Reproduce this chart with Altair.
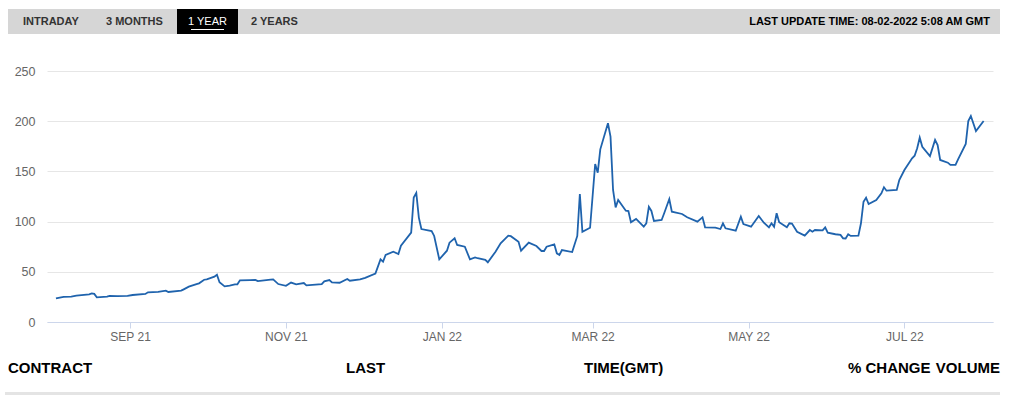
import altair as alt
import pandas as pd

dates = [
    "2021-08-03","2021-08-05","2021-08-06","2021-08-09","2021-08-11","2021-08-16","2021-08-17","2021-08-18","2021-08-19","2021-08-23","2021-08-24","2021-08-27","2021-08-31",
    "2021-09-02","2021-09-07","2021-09-08","2021-09-12","2021-09-15","2021-09-16","2021-09-21","2021-09-22","2021-09-24","2021-09-27","2021-09-28","2021-09-30",
    "2021-10-01","2021-10-04","2021-10-05","2021-10-06","2021-10-08","2021-10-10","2021-10-12","2021-10-13","2021-10-14","2021-10-18","2021-10-20","2021-10-21","2021-10-26","2021-10-27","2021-10-29",
    "2021-11-01","2021-11-03","2021-11-05","2021-11-08","2021-11-09","2021-11-15","2021-11-16","2021-11-18","2021-11-19","2021-11-22","2021-11-25","2021-11-26","2021-11-30",
    "2021-12-02","2021-12-06","2021-12-08","2021-12-09","2021-12-10","2021-12-13","2021-12-15","2021-12-16","2021-12-20","2021-12-21","2021-12-22","2021-12-23","2021-12-24","2021-12-28","2021-12-29","2021-12-31",
    "2022-01-03","2022-01-04","2022-01-06","2022-01-07","2022-01-10","2022-01-12","2022-01-14","2022-01-15","2022-01-18","2022-01-19","2022-01-22","2022-01-24","2022-01-27","2022-01-28","2022-01-31",
    "2022-02-01","2022-02-04","2022-02-07","2022-02-09","2022-02-10","2022-02-11","2022-02-14","2022-02-15","2022-02-16","2022-02-17","2022-02-21","2022-02-23","2022-02-24","2022-02-25","2022-02-28",
    "2022-03-02","2022-03-03","2022-03-04","2022-03-07","2022-03-08","2022-03-09","2022-03-10","2022-03-11","2022-03-14","2022-03-15","2022-03-16","2022-03-18","2022-03-21","2022-03-22","2022-03-23","2022-03-24","2022-03-25","2022-03-28","2022-03-29","2022-03-31",
    "2022-04-01","2022-04-05","2022-04-07","2022-04-11","2022-04-13","2022-04-14","2022-04-18","2022-04-20","2022-04-21","2022-04-22","2022-04-26","2022-04-28","2022-04-29",
    "2022-05-02","2022-05-05","2022-05-07","2022-05-09","2022-05-10","2022-05-11","2022-05-12","2022-05-13","2022-05-16","2022-05-17","2022-05-18","2022-05-20","2022-05-23","2022-05-25","2022-05-26","2022-05-27","2022-05-30","2022-05-31",
    "2022-06-01","2022-06-04","2022-06-06","2022-06-07","2022-06-08","2022-06-09","2022-06-10","2022-06-13","2022-06-14","2022-06-15","2022-06-16","2022-06-17","2022-06-20","2022-06-22","2022-06-23","2022-06-24","2022-06-28","2022-06-29",
    "2022-07-01","2022-07-04","2022-07-05","2022-07-06","2022-07-07","2022-07-08","2022-07-11","2022-07-13","2022-07-14","2022-07-15","2022-07-18","2022-07-19","2022-07-21","2022-07-22","2022-07-25","2022-07-26","2022-07-27","2022-07-29",
    "2022-08-01",
]

prices = [
    23.5, 24.6, 25.0, 25.2, 26.2, 27.6, 28.5, 28.0, 24.6, 25.2, 26.0, 25.8, 26.0,
    26.9, 27.9, 29.6, 30.0, 31.2, 29.9, 31.2, 32.5, 35.2, 37.8, 38.5, 42.1,
    42.5, 45.1, 47.0, 39.6, 35.5, 36.2, 37.5, 37.5, 41.5, 41.8, 42.0, 40.7, 42.2, 42.5, 37.8,
    36.0, 39.3, 37.5, 38.8, 36.5, 37.8, 40.5, 41.8, 39.5, 39.1, 42.8, 41.1, 42.5,
    44.0, 48.3, 62.4, 60.0, 66.7, 70.0, 67.7, 76.0, 89.0, 124.0, 128.5, 104.0, 92.6, 90.6, 85.7, 62.4,
    71.0, 79.0, 83.4, 76.7, 75.0, 62.4, 64.4, 63.5, 62.0, 59.5, 70.0, 78.4, 86.0, 85.5, 80.0,
    71.0, 79.0, 75.7, 70.7, 70.7, 75.0, 77.4, 68.4, 66.7, 71.7, 69.7, 85.7, 127.5, 89.9, 93.9,
    157.4, 148.7, 172.0, 198.0, 184.6, 131.5, 114.2, 121.5, 110.9, 110.5, 99.3, 102.6, 94.9, 98.3, 114.8, 110.6, 100.6, 101.6, 108.3, 122.5,
    109.9, 107.6, 104.3, 99.9, 104.3, 94.3, 93.9, 92.6, 98.3, 93.3, 90.9, 104.9, 97.6,
    94.9, 105.6, 98.9, 94.3, 98.3, 94.9, 108.3, 99.3, 94.3, 98.3, 98.0, 89.9, 86.0, 91.6, 89.9, 91.6, 91.3, 94.3,
    88.9, 87.4, 86.7, 83.4, 83.2, 87.4, 85.7, 86.0, 98.3, 119.8, 123.8, 117.5, 121.5, 128.2, 134.2, 130.8, 131.5, 141.4,
    151.4, 163.0, 165.6, 173.0, 183.6, 174.6, 165.3, 181.3, 176.3, 161.4, 158.7, 156.4, 156.4, 162.0, 177.3, 200.2, 205.2, 190.2,
    200.2,
]

y_ticks = [0, 50, 100, 150, 200, 250]
x_tick_months = [(2021, 9), (2021, 11), (2022, 1), (2022, 3), (2022, 5), (2022, 7)]
tabs = ["INTRADAY", "3 MONTHS", "1 YEAR", "2 YEARS"]
update_text = "LAST UPDATE TIME: 08-02-2022 5:08 AM GMT"
columns = ["CONTRACT", "LAST", "TIME(GMT)", "% CHANGE", "VOLUME"]

df = pd.DataFrame({"date": dates, "price": prices})

FONT = "Liberation Sans, Arial, Helvetica, sans-serif"
W, H = 946, 251

x_values = [alt.DateTime(year=y, month=m, date=1, utc=True) for y, m in x_tick_months]

line = alt.Chart(df).mark_line(color="#1f63ad", strokeWidth=1.8).encode(
    x=alt.X(
        "date:T",
        scale=alt.Scale(
            type="utc",
            domain=[
                alt.DateTime(year=2021, month=7, date=30, hours=12, utc=True),
                alt.DateTime(year=2022, month=8, date=4, hours=16, utc=True),
            ],
        ),
        axis=alt.Axis(
            title=None,
            values=x_values,
            labelExpr="upper(utcFormat(datum.value, '%b %y'))",
            grid=False,
            domainColor="#ccd6eb",
            tickColor="#ccd6eb",
            tickSize=6,
            labelColor="#666666",
            labelFontSize=12,
            labelFont=FONT,
            labelPadding=3,
        ),
    ),
    y=alt.Y(
        "price:Q",
        scale=alt.Scale(domain=[0, 250], nice=False, zero=True),
        axis=alt.Axis(
            title=None,
            values=y_ticks,
            grid=True,
            gridColor="#e6e6e6",
            domain=False,
            ticks=False,
            labelColor="#666666",
            labelFontSize=12.5,
            labelFont=FONT,
            labelPadding=12,
        ),
    ),
)

one = alt.Data(values=[{"a": 1}])


def box(x1, x2, y1, y2, color):
    return alt.Chart(one).mark_rect(color=color).encode(
        x=alt.value(x1), x2=alt.value(x2), y=alt.value(y1), y2=alt.value(y2)
    )


def label(text, x, y, size=11, color="#222222", align="left", weight="bold"):
    return alt.Chart(one).mark_text(
        text=text, align=align, baseline="middle", fontSize=size, font=FONT,
        fontWeight=weight, color=color,
    ).encode(x=alt.value(x), y=alt.value(y))


OX, OY = 47, 71  # plot origin on page

header_y = 22 - OY
foot_y = 368 - OY
layers = [
    box(8 - OX, 1000 - OX, 9 - OY, 34 - OY, "#d6d6d6"),
    box(177 - OX, 238 - OX, 9 - OY, 34 - OY, "#000000"),
    label(tabs[0], 23 - OX, header_y, color="#333333"),
    label(tabs[1], 106 - OX, header_y, color="#333333"),
    label(tabs[2], 207.5 - OX, header_y, color="#ffffff", align="center", weight="normal"),
    alt.Chart(one).mark_rule(color="#ffffff", strokeWidth=1).encode(
        x=alt.value(191 - OX), x2=alt.value(224 - OX), y=alt.value(29.5 - OY)
    ),
    label(tabs[3], 251 - OX, header_y, color="#333333"),
    label(update_text, 990 - OX, header_y, color="#000000", align="right"),
    line,
    label(columns[0], 8 - OX, foot_y, size=15, color="#000000"),
    label(columns[1], 346 - OX, foot_y, size=15, color="#000000"),
    label(columns[2], 584 - OX, foot_y, size=15, color="#000000"),
    label(columns[3], 848 - OX, foot_y, size=15, color="#000000"),
    label(columns[4], 1000 - OX, foot_y, size=15, color="#000000", align="right"),
    box(5 - OX, 1000 - OX, 392 - OY, 395 - OY, "#e4e4e4"),
]

chart = alt.layer(*layers).properties(
    width=W,
    height=H,
    padding={"left": OX, "top": OY, "right": 1024 - OX - W, "bottom": 399 - OY - H},
    autosize=alt.AutoSizeParams(type="none"),
    background="#ffffff",
).configure_view(stroke=None)

chart.save("out.html", embed_options={"renderer": "svg", "actions": False})
